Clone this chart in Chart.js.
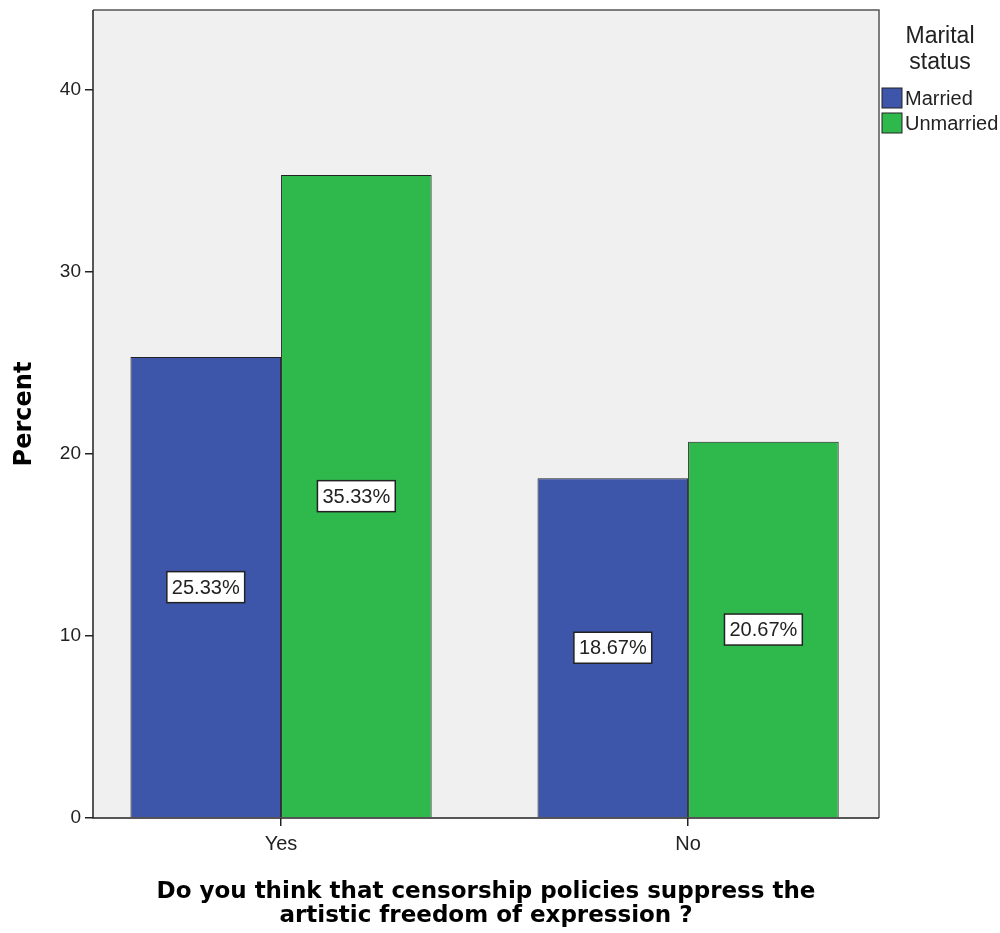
<!DOCTYPE html>
<html>
<head>
<meta charset="utf-8">
<script src="https://cdn.jsdelivr.net/npm/chart.js@4"></script>
<style>
  body { margin: 0; background: #fff; }
  #wrap { width: 1000px; height: 933px; }
</style>
</head>
<body>
<div id="wrap"><canvas id="chart" width="1000" height="933"></canvas></div>
<script>
// Data
const categories = ["Yes", "No"];
const married = [25.33, 18.67];
const unmarried = [35.33, 20.67];
const seriesNames = ["Married", "Unmarried"];
const yTicks = [0, 10, 20, 30, 40];

const FONT = "'Liberation Sans', Arial, sans-serif";
const BOLD = "'DejaVu Sans', 'Liberation Sans', sans-serif";

// Plot background + frame
const frame = {
  id: "frame",
  beforeDatasetsDraw(chart) {
    const { ctx, chartArea: a } = chart;
    ctx.save();
    ctx.fillStyle = "#f0f0f0";
    ctx.fillRect(a.left, a.top, a.right - a.left, a.bottom - a.top);
    ctx.restore();
  },
  afterDatasetsDraw(chart) {
    const { ctx, chartArea: a } = chart;
    ctx.save();
    ctx.strokeStyle = "#555";
    ctx.lineWidth = 1.5;
    ctx.beginPath();
    ctx.moveTo(a.left, a.top);
    ctx.lineTo(a.right, a.top);
    ctx.lineTo(a.right, a.bottom);
    ctx.stroke();
    ctx.strokeStyle = "#222";
    ctx.beginPath();
    ctx.moveTo(a.left, a.top);
    ctx.lineTo(a.left, a.bottom);
    ctx.lineTo(a.right, a.bottom);
    ctx.stroke();
    ctx.restore();
  },
};

// Boxed value labels in the middle of each bar
const valueLabels = {
  id: "valueLabels",
  afterDatasetsDraw(chart) {
    const { ctx } = chart;
    ctx.save();
    ctx.font = "20px " + FONT;
    ctx.textAlign = "center";
    ctx.textBaseline = "middle";
    chart.data.datasets.forEach((ds, i) => {
      chart.getDatasetMeta(i).data.forEach((bar, j) => {
        const text = ds.data[j].y.toFixed(2) + "%";
        const x = bar.x;
        const y = (bar.y + bar.base) / 2;
        const w = ctx.measureText(text).width + 10;
        const h = 31;
        ctx.fillStyle = "#fff";
        ctx.fillRect(x - w / 2, y - h / 2, w, h);
        ctx.strokeStyle = "#222";
        ctx.lineWidth = 1.5;
        ctx.strokeRect(x - w / 2, y - h / 2, w, h);
        ctx.fillStyle = "#222";
        ctx.fillText(text, x, y + 1);
      });
    });
    ctx.restore();
  },
};

// Legend on the right
const sideLegend = {
  id: "sideLegend",
  afterDraw(chart) {
    const { ctx } = chart;
    ctx.save();
    ctx.fillStyle = "#222";
    ctx.font = "23px " + FONT;
    ctx.textAlign = "center";
    ctx.textBaseline = "middle";
    ctx.fillText("Marital", 940, 37);
    ctx.fillText("status", 940, 63);
    ctx.font = "20px " + FONT;
    ctx.textAlign = "left";
    chart.data.datasets.forEach((ds, i) => {
      const y = 88 + i * 25;
      ctx.fillStyle = ds.backgroundColor;
      ctx.fillRect(882, y, 20, 20);
      ctx.strokeStyle = "#222";
      ctx.lineWidth = 1;
      ctx.strokeRect(882, y, 20, 20);
      ctx.fillStyle = "#222";
      ctx.fillText(ds.label, 905, y + 11);
    });
    ctx.restore();
  },
};

new Chart(document.getElementById("chart").getContext("2d"), {
  type: "bar",
  data: {
    datasets: [
      {
        label: seriesNames[0],
        data: married.map((v, i) => ({ x: i, y: v })),
        backgroundColor: "#3d56aa",
        borderColor: "#222",
        borderWidth: 1,
      },
      {
        label: seriesNames[1],
        data: unmarried.map((v, i) => ({ x: i, y: v })),
        backgroundColor: "#2fb84c",
        borderColor: "#222",
        borderWidth: 1,
      },
    ],
  },
  options: {
    responsive: false,
    animation: false,
    events: [],
    categoryPercentage: 0.74,
    barPercentage: 1,
    layout: { padding: { top: 10, right: 121, left: 0, bottom: 0 } },
    plugins: {
      legend: { display: false },
      tooltip: { enabled: false },
    },
    scales: {
      x: {
        type: "linear",
        min: -0.462,
        max: 1.469,
        offset: false,
        grid: { drawOnChartArea: false, offset: false, tickLength: 8, color: "#222", lineWidth: 1.5 },
        border: { display: false },
        afterBuildTicks(scale) {
          scale.ticks = categories.map((c, i) => ({ value: i }));
        },
        ticks: {
          color: "#222",
          font: { family: FONT, size: 20 },
          padding: 6,
          callback: (v) => categories[v],
        },
        title: {
          display: true,
          text: ["Do you think that censorship policies suppress the", "artistic freedom of expression ?"],
          color: "#000",
          font: { family: BOLD, size: 23, weight: "bold", lineHeight: 1.05 },
          padding: { top: 4, bottom: 5 },
        },
        afterFit(scale) {
          scale.height = 115;
        },
      },
      y: {
        min: 0,
        max: 44.4,
        grid: { drawOnChartArea: false, tickLength: 8, color: "#222", lineWidth: 1.5 },
        border: { display: false },
        afterBuildTicks(scale) {
          scale.ticks = yTicks.map((v) => ({ value: v }));
        },
        ticks: { color: "#222", font: { family: FONT, size: 19 }, padding: 4 },
        title: {
          display: true,
          text: "Percent",
          color: "#000",
          font: { family: BOLD, size: 24, weight: "bold" },
          padding: { top: 10, bottom: 0 },
        },
        afterFit(scale) {
          scale.width = 93;
          scale.paddingTop = 0;
          scale.paddingBottom = 0;
        },
      },
    },
  },
  plugins: [frame, valueLabels, sideLegend],
});
</script>
</body>
</html>
